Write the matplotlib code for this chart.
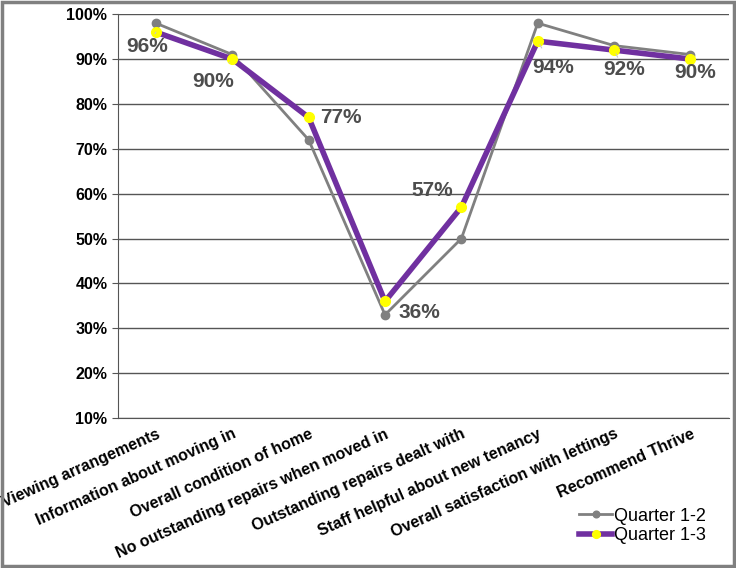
import matplotlib.pyplot as plt
from matplotlib.patches import Rectangle
from matplotlib.ticker import PercentFormatter

plt.rcParams['font.family'] = ['Liberation Sans', 'DejaVu Sans']

categories = ['Viewing arrangements', 'Information about moving in', 'Overall condition of home',
              'No outstanding repairs when moved in', 'Outstanding repairs dealt with',
              'Staff helpful about new tenancy', 'Overall satisfaction with lettings', 'Recommend Thrive']
q12 = [98, 91, 72, 33, 50, 98, 93, 91]
q13 = [96, 90, 77, 36, 57, 94, 92, 90]
# label offsets in points (dx, dy) relative to each Quarter 1-3 point
label_offsets = [(-6, -10), (-14, -16), (23, 0), (25, -8), (-21, 12), (11, -19), (7, -14), (3, -10)]
leader = [True, True, False, False, False, True, True, False]

fig = plt.figure(figsize=(7.36, 5.68), dpi=100)
ax = fig.add_axes([0.160, 0.264, 0.830, 0.711])

x = [i + 0.5 for i in range(len(categories))]
ax.plot(x, q12, color='#808080', lw=2, marker='o', ms=6, mfc='#808080', mec='#808080', label='Quarter 1-2', zorder=3)
ax.plot(x, q13, color='#7030A0', lw=4, marker='o', ms=7, mfc='#FFFF00', mec='#FFFF00', label='Quarter 1-3', zorder=4)

for xi, v, (dx, dy), ld in zip(x, q13, label_offsets, leader):
    ax.annotate(f'{v}%', (xi, v), xytext=(dx, dy), textcoords='offset points',
                ha='center', va='center', fontsize=15, fontweight='bold', color='#4d4d4d',
                arrowprops=dict(arrowstyle='-', color='#c8c8c8', lw=0.8, shrinkA=6, shrinkB=3) if ld else None,
                zorder=5)

ax.set_xlim(0, 8)
ax.set_ylim(10, 100)
ax.set_yticks(range(10, 101, 10))
ax.yaxis.set_major_formatter(PercentFormatter(decimals=0))
ax.set_xticks(x)
ax.set_xticklabels(categories, rotation=24, ha='right', rotation_mode='anchor',
                   fontsize=11.5, fontweight='bold')
ax.tick_params(axis='x', length=0, pad=6)
ax.tick_params(axis='y', length=4, labelsize=11.5, color='#555555')
for lbl in ax.get_yticklabels():
    lbl.set_fontweight('bold')
ax.grid(axis='y', color='#555555', lw=1)
ax.set_axisbelow(True)
for s in ['top', 'right']:
    ax.spines[s].set_visible(False)
ax.spines['left'].set_color('#555555')
ax.spines['bottom'].set_color('#555555')

fig.legend(loc='upper left', bbox_to_anchor=(0.765, 0.135), frameon=False, fontsize=13,
           handlelength=1.8, handletextpad=0.1, labelspacing=0.15, markerscale=0.8)

fig.patches.append(Rectangle((0.003, 0.004), 0.994, 0.992, transform=fig.transFigure,
                             fill=False, edgecolor='#808080', lw=2.5))

fig.savefig('out.png', dpi=100)
